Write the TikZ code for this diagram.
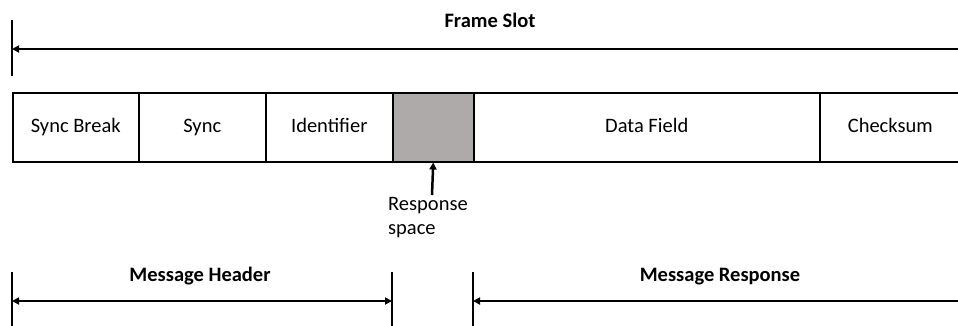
\documentclass[tikz,border=0pt]{standalone}
\usepackage{fontspec}
\setmainfont{Carlito}
\usetikzlibrary{arrows.meta}
\definecolor{gapgray}{RGB}{174,170,170}
\tikzset{
  field/.style={draw, line width=1.5pt, minimum height=69pt, inner sep=0pt, anchor=north west,
    text height=14pt, text depth=4pt, font=\fontsize{20.5}{24}\selectfont},
  span/.style={line width=2.5pt, {Triangle[length=7pt,width=7pt]}-},
  bothspan/.style={line width=2.5pt, {Triangle[length=7pt,width=7pt]}-{Triangle[length=7pt,width=7pt]}},
  tick/.style={line width=1.5pt},
  title/.style={font=\fontsize{20.5}{24}\selectfont\bfseries, text height=14pt, text depth=4pt},
  note/.style={font=\fontsize{20.5}{24}\selectfont, align=left, anchor=north west, inner sep=0pt}
}
\begin{document}
\begin{tikzpicture}[x=1pt, y=-1pt]
  \useasboundingbox (0,0) rectangle (958,325);
  \clip (0,0) rectangle (958,325);

  % frame slot span
  \coordinate (fsL) at (12,49);
  \coordinate (fsR) at (970,49);
  \draw[tick] (12,20) -- (12,76);
  \draw[span] (fsL) -- (fsR);
  \node[title] (fslabel) at (490,22) {Frame Slot};

  % frame fields
  \node[field, minimum width=126pt] (brk) at (12,92) {Sync Break};
  \node[field, minimum width=127pt] (sync) at (138,92) {Sync};
  \node[field, minimum width=127pt] (ident) at (265,92) {Identifier};
  \node[field, minimum width=81pt, fill=gapgray] (gap) at (392,92) {};
  \node[field, minimum width=346pt] (data) at (473,92) {Data Field};
  \node[field, minimum width=141pt] (chk) at (819,92) {Checksum};

  % response space pointer
  \coordinate (rsp) at (432,195);
  \draw[line width=2.5pt, -{Triangle[length=7pt,width=7pt]}] (rsp) -- (gap.south);
  \node[note] (rsptext) at (388,197) {Response\\space};

  % message header span
  \draw[tick] (12,272) -- (12,330);
  \draw[tick] (392,272) -- (392,330);
  \coordinate (mhL) at (12,301);
  \coordinate (mhR) at (392,301);
  \draw[bothspan] (mhL) -- (mhR);
  \node[title] (mhlabel) at (200,276) {Message Header};

  % message response span
  \draw[tick] (473,272) -- (473,330);
  \coordinate (mrL) at (473,301);
  \coordinate (mrR) at (970,301);
  \draw[span] (mrL) -- (mrR);
  \node[title] (mrlabel) at (720,276) {Message Response};
\end{tikzpicture}
\end{document}
